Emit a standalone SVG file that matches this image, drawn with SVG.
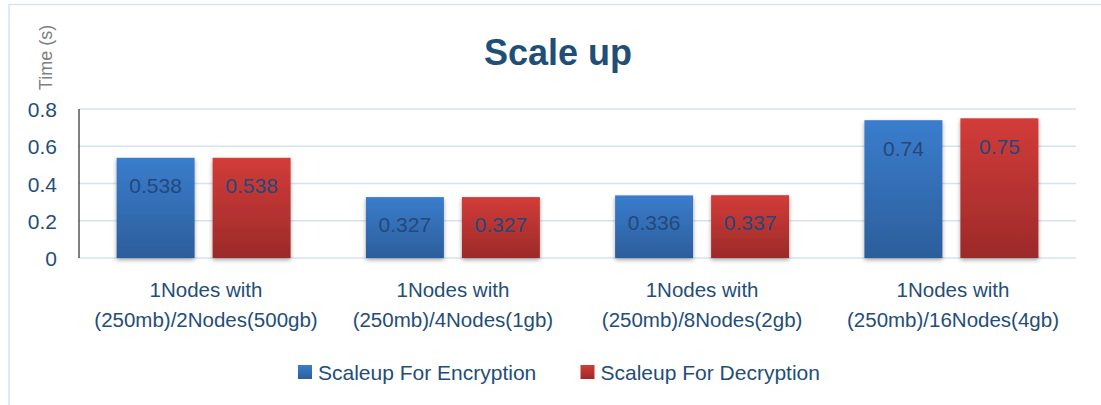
<svg xmlns="http://www.w3.org/2000/svg" width="1101" height="405" viewBox="0 0 1101 405">
  <defs>
    <linearGradient id="gradBlue" x1="0" y1="0" x2="0" y2="1">
      <stop offset="0" stop-color="#3A7DCD"/>
      <stop offset="1" stop-color="#2C5E9B"/>
    </linearGradient>
    <linearGradient id="gradRed" x1="0" y1="0" x2="0" y2="1">
      <stop offset="0" stop-color="#D23C39"/>
      <stop offset="1" stop-color="#9C2A29"/>
    </linearGradient>
    <filter id="barShadow" x="-20%" y="-10%" width="140%" height="125%">
      <feDropShadow dx="0" dy="2" stdDeviation="2" flood-color="#000" flood-opacity="0.35"/>
    </filter>
  </defs>
  <style>
    text { font-family: "Liberation Sans", Arial, sans-serif; fill: #1F4E79; }
    .title { font-size: 36px; font-weight: bold; text-anchor: middle; }
    .axis-title { font-size: 18px; fill: #7F7F7F; text-anchor: middle; }
    .tick { font-size: 21px; text-anchor: end; }
    .cat { font-size: 20.5px; text-anchor: middle; }
    .val { font-size: 21px; text-anchor: middle; fill: #24487A; }
    .legend { font-size: 21px; }
    .grid { stroke: #D6E2F3; stroke-width: 1.5; }
    .enc { fill: url(#gradBlue); filter: url(#barShadow); }
    .dec { fill: url(#gradRed); filter: url(#barShadow); }
  </style>

  <!-- chart area background and frame -->
  <rect x="0" y="0" width="1101" height="405" fill="#FFFFFF"/>
  <rect x="9" y="4.5" width="1200" height="500" fill="none" stroke="#D6E3F4" stroke-width="1.5"/>

  <!-- title -->
  <text class="title" x="558" y="65">Scale up</text>

  <!-- value axis -->
  <g id="value-axis">
    <text class="axis-title" transform="translate(52,57.5) rotate(-90)">Time (s)</text>
    <line class="grid" x1="79" y1="109" x2="1076" y2="109"/>
    <line class="grid" x1="79" y1="146.25" x2="1076" y2="146.25"/>
    <line class="grid" x1="79" y1="183.5" x2="1076" y2="183.5"/>
    <line class="grid" x1="79" y1="220.75" x2="1076" y2="220.75"/>
    <line class="grid" x1="79" y1="258" x2="1076" y2="258"/>
    <text class="tick" x="57" y="117">0.8</text>
    <text class="tick" x="57" y="154.25">0.6</text>
    <text class="tick" x="57" y="191.5">0.4</text>
    <text class="tick" x="57" y="228.75">0.2</text>
    <text class="tick" x="57" y="266">0</text>
    <line x1="79" y1="109" x2="79" y2="258" stroke="#000000" stroke-width="1"/>
  </g>

  <!-- category 1 -->
  <g id="group-2nodes">
    <rect class="enc" x="116.6" y="157.8" width="78" height="100.2"/>
    <rect class="dec" x="212.6" y="157.8" width="78" height="100.2"/>
    <text class="val" x="155.6" y="193">0.538</text>
    <text class="val" x="251.6" y="193">0.538</text>
    <text class="cat" x="206" y="297">1Nodes with</text>
    <text class="cat" x="206" y="327">(250mb)/2Nodes(500gb)</text>
  </g>

  <!-- category 2 -->
  <g id="group-4nodes">
    <rect class="enc" x="365.9" y="197.1" width="78" height="60.9"/>
    <rect class="dec" x="461.9" y="197.1" width="78" height="60.9"/>
    <text class="val" x="404.9" y="232">0.327</text>
    <text class="val" x="500.9" y="232">0.327</text>
    <text class="cat" x="452.9" y="297">1Nodes with</text>
    <text class="cat" x="452.9" y="327">(250mb)/4Nodes(1gb)</text>
  </g>

  <!-- category 3 -->
  <g id="group-8nodes">
    <rect class="enc" x="615.1" y="195.4" width="78" height="62.6"/>
    <rect class="dec" x="711.1" y="195.2" width="78" height="62.8"/>
    <text class="val" x="654.1" y="230.4">0.336</text>
    <text class="val" x="750.1" y="230.2">0.337</text>
    <text class="cat" x="702.1" y="297">1Nodes with</text>
    <text class="cat" x="702.1" y="327">(250mb)/8Nodes(2gb)</text>
  </g>

  <!-- category 4 -->
  <g id="group-16nodes">
    <rect class="enc" x="864.4" y="120.2" width="78" height="137.8"/>
    <rect class="dec" x="960.4" y="118.3" width="78" height="139.7"/>
    <text class="val" x="903.4" y="156">0.74</text>
    <text class="val" x="999.4" y="154">0.75</text>
    <text class="cat" x="953" y="297">1Nodes with</text>
    <text class="cat" x="953" y="327">(250mb)/16Nodes(4gb)</text>
  </g>

  <!-- legend -->
  <g id="legend-encryption">
    <rect x="298" y="365" width="14" height="14" fill="url(#gradBlue)"/>
    <text class="legend" x="318" y="379.5">Scaleup For Encryption</text>
  </g>
  <g id="legend-decryption">
    <rect x="580.5" y="365" width="14" height="14" fill="url(#gradRed)"/>
    <text class="legend" x="600.5" y="379.5">Scaleup For Decryption</text>
  </g>

  <!-- connectors: none in this chart -->
  <g id="connectors"/>
</svg>
